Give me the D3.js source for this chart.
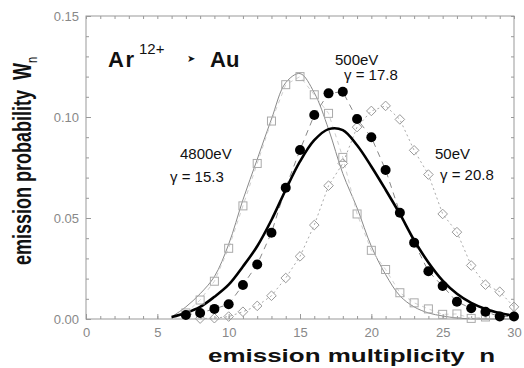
<!DOCTYPE html>
<html><head><meta charset="utf-8">
<script src="https://cdn.jsdelivr.net/npm/d3@7"></script>
<style>
body{margin:0;background:#fff}
svg{display:block}
text{font-family:"Liberation Sans",Arial,Helvetica,sans-serif}
</style>
</head><body>
<svg id="c" width="524" height="368"></svg>
<script>
// ---- data ----
const fitN    = [6,7,8,9,10,11,12,13,14,15,16,17,18,19,20,21,22,23,24,25,26,27,28,29,30];
const fit500  = [0.001,0.003,0.006,0.011,0.017,0.026,0.036,0.049,0.064,0.078,0.0885,0.094,0.0935,0.086,0.0755,0.064,0.052,0.039,0.028,0.019,0.0125,0.008,0.005,0.003,0.0015];
const fit4800 = [0.001,0.006,0.0125,0.021,0.037,0.059,0.079,0.099,0.117,0.1215,0.112,0.094,0.072,0.055,0.036,0.022,0.0115,0.006,0.003,0.0015,0.0005,0.0001,0,0,0];

const n500    = [7,8,9,10,11,12,13,14,15,16,17,18,19,20,21,22,23,24,25,26,27,28,29,30];
const data500 = [0.002,0.003,0.005,0.0073,0.0168,0.027,0.0427,0.065,0.0837,0.101,0.1117,0.1125,0.099,0.090,0.0738,0.0526,0.0378,0.0236,0.0163,0.0085,0.0053,0.0036,0.0012,0.0012];

const n4800    = [7,8,9,10,11,12,13,14,15,16,17,18,19,20,21,22,23,24,25,26,27,28];
const data4800 = [0.003,0.0094,0.0187,0.035,0.056,0.077,0.098,0.116,0.120,0.111,0.1018,0.080,0.052,0.034,0.0245,0.013,0.008,0.005,0.0023,0.0025,0.0003,0.001];

const n50    = [8,9,10,11,12,13,14,15,16,17,18,19,20,21,22,23,24,25,26,27,28,29,30];
const data50 = [0.0002,0.0004,0.0012,0.0036,0.0065,0.0115,0.0203,0.031,0.0465,0.066,0.077,0.095,0.103,0.1055,0.0988,0.0835,0.0715,0.052,0.043,0.0265,0.017,0.0135,0.006];

const xTicks = [0,5,10,15,20,25,30];
const yTicks = [0,0.05,0.10,0.15];

// ---- layout ----
const svg = d3.select("#c");
const L = 86, R = 514, T = 16, B = 319;
const x = d3.scaleLinear().domain([0,30]).range([L,R]);
const y = d3.scaleLinear().domain([0,0.15]).range([B,T]);
const frameCol = "#999", tickTextCol = "#888";

// minor ticks
const xMinor = d3.range(0,31,1), yMinor = d3.range(0,0.1501,0.01);
function styleAxis(g){ g.select(".domain").remove(); g.selectAll(".tick line").attr("stroke",frameCol); }
svg.append("g").attr("transform",`translate(0,${B})`)
  .call(d3.axisBottom(x).tickValues(xMinor).tickSize(-3).tickFormat("")).call(styleAxis);
svg.append("g").attr("transform",`translate(0,${T})`)
  .call(d3.axisTop(x).tickValues(xMinor).tickSize(-3).tickFormat("")).call(styleAxis);
svg.append("g").attr("transform",`translate(${L},0)`)
  .call(d3.axisLeft(y).tickValues(yMinor).tickSize(-3).tickFormat("")).call(styleAxis);
svg.append("g").attr("transform",`translate(${R},0)`)
  .call(d3.axisRight(y).tickValues(yMinor).tickSize(-3).tickFormat("")).call(styleAxis);

// major ticks + labels
const gx = svg.append("g").attr("transform",`translate(0,${B})`)
  .call(d3.axisBottom(x).tickValues(xTicks).tickSize(-5).tickPadding(9).tickFormat(d3.format("d")));
styleAxis(gx);
gx.selectAll("text").attr("fill",tickTextCol).attr("font-size",13).attr("font-family","Liberation Sans, Arial, sans-serif");
const gy = svg.append("g").attr("transform",`translate(${L},0)`)
  .call(d3.axisLeft(y).tickValues(yTicks).tickSize(-5).tickPadding(7).tickFormat(d3.format(".2f")));
styleAxis(gy);
gy.selectAll("text").attr("fill",tickTextCol).attr("font-size",13).attr("font-family","Liberation Sans, Arial, sans-serif");

// frame
svg.append("rect").attr("x",L).attr("y",T).attr("width",R-L).attr("height",B-T)
  .attr("fill","none").attr("stroke",frameCol).attr("stroke-width",1);

// ---- curves ----
const zip = (a,b)=>a.map((v,i)=>[v,b[i]]);
const fitLine = d3.line().x(d=>x(d[0])).y(d=>y(Math.max(0,d[1]))).curve(d3.curveCatmullRom.alpha(0.5));
const dataLine = d3.line().x(d=>x(d[0])).y(d=>y(d[1])).curve(d3.curveLinear);

svg.append("path").attr("d",fitLine(zip(fitN,fit4800)))
  .attr("fill","none").attr("stroke","#8a8a8a").attr("stroke-width",1);
svg.append("path").attr("d",dataLine(zip(n4800,data4800)))
  .attr("fill","none").attr("stroke","#d0d0d0").attr("stroke-width",1).attr("stroke-dasharray","4,4");
svg.append("path").attr("d",dataLine(zip(n50,data50)))
  .attr("fill","none").attr("stroke","#aaa").attr("stroke-width",1).attr("stroke-dasharray","2,3");
svg.append("path").attr("d",dataLine(zip(n500,data500)))
  .attr("fill","none").attr("stroke","#888").attr("stroke-width",1).attr("stroke-dasharray","6,5");
svg.append("path").attr("d",fitLine(zip(fitN,fit500)))
  .attr("fill","none").attr("stroke","#000").attr("stroke-width",2.6);

// ---- markers ----
svg.append("g").selectAll("rect").data(zip(n4800,data4800)).join("rect")
  .attr("x",d=>x(d[0])-4).attr("y",d=>y(d[1])-4).attr("width",8).attr("height",8)
  .attr("fill","none").attr("stroke","#aaa").attr("stroke-width",1);
svg.append("g").selectAll("path").data(zip(n50,data50)).join("path")
  .attr("d",d=>{const cx=x(d[0]),cy=y(d[1]),r=4.8;return `M${cx},${cy-r}L${cx+r},${cy}L${cx},${cy+r}L${cx-r},${cy}Z`;})
  .attr("fill","none").attr("stroke","#999").attr("stroke-width",1);
svg.append("g").selectAll("circle").data(zip(n500,data500)).join("circle")
  .attr("cx",d=>x(d[0])).attr("cy",d=>y(d[1])).attr("r",5).attr("fill","#000");

// ---- texts ----
svg.append("text").attr("x",108).attr("y",67).attr("font-size",22).attr("font-weight","bold")
  .attr("letter-spacing",1.5).attr("fill","#111").text("Ar");
svg.append("text").attr("x",139).attr("y",54).attr("font-size",15).attr("fill","#111").text("12+");
svg.append("text").attr("x",187).attr("y",62).attr("font-size",10).attr("font-family","DejaVu Sans").attr("fill","#111").text("➤");
svg.append("text").attr("x",210).attr("y",67).attr("font-size",22).attr("font-weight","bold").attr("fill","#111").text("Au");

const lab = (tx,ty,s)=>svg.append("text").attr("x",tx).attr("y",ty).attr("font-size",15).attr("fill","#111").style("white-space","pre").text(s);
lab(335,65,"500eV"); lab(344,80,"γ = 17.8");
lab(180,159,"4800eV"); lab(170,182,"γ = 15.3");
lab(435,159,"50eV"); lab(440,180,"γ = 20.8");

// axis titles
svg.append("text").attr("x",208).attr("y",362).attr("font-size",19).attr("font-weight","bold")
  .attr("fill","#111").attr("textLength",287).attr("lengthAdjust","spacingAndGlyphs")
  .style("white-space","pre").text("emission multiplicity  n");

const yt = svg.append("g").attr("transform","translate(31,161) scale(1.38,1) rotate(-90)")
  .append("text").attr("text-anchor","middle").attr("font-size",18).attr("font-weight","bold")
  .attr("fill","#111").style("white-space","pre");
yt.append("tspan").text("emission probability  W");
yt.append("tspan").attr("font-size",11).attr("font-weight","normal").attr("dy",4).text("n");
</script>
</body></html>
